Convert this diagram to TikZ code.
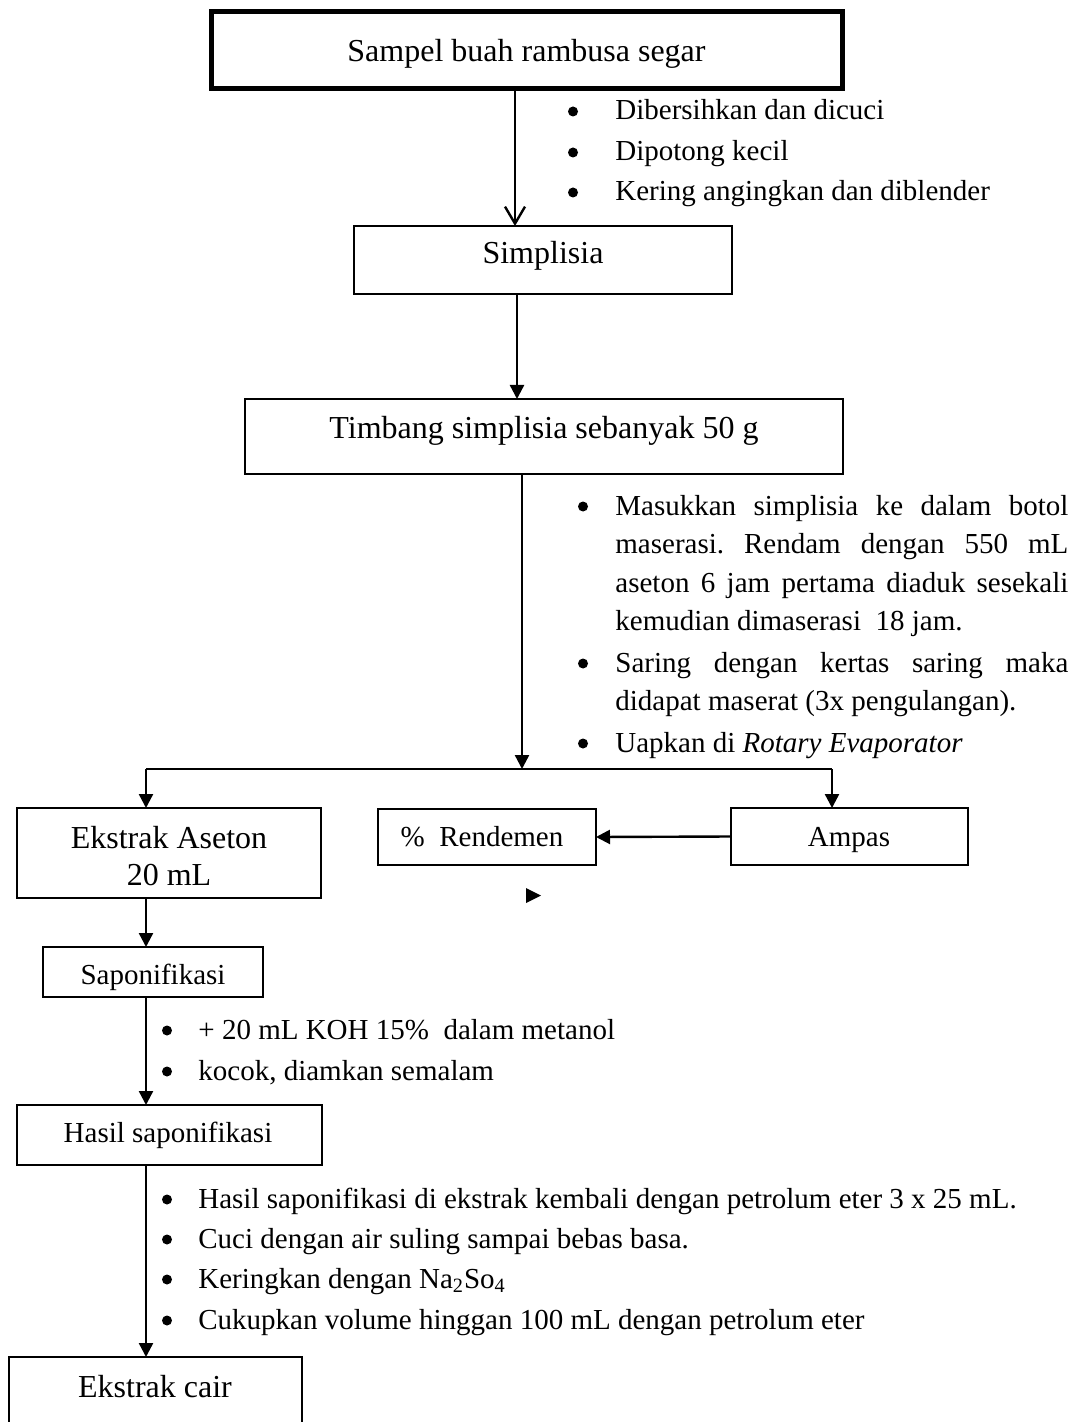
\documentclass[tikz,border=0pt]{standalone}
\usepackage{fontspec}
\setmainfont{Liberation Serif}
\usetikzlibrary{arrows.meta,fit}
\frenchspacing
\newcommand{\jline}[1]{\makebox[226.5pt][s]{#1}}
\begin{document}
\begin{tikzpicture}[x=0.5pt,y=-0.5pt,
  every node/.style={font=\fontsize{14.5pt}{18pt}\selectfont},
  box/.style={draw,line width=1pt,inner sep=0pt,outer sep=0pt},
  thickbox/.style={draw,line width=2.5pt,inner sep=0pt,outer sep=0pt},
  txt/.style={inner sep=0pt,anchor=base},
  bigtxt/.style={inner sep=0pt,anchor=base,font=\fontsize{16pt}{20pt}\selectfont},
  ltxt/.style={inner sep=0pt,anchor=base west},
  bul/.style={circle,fill,inner sep=0pt,minimum size=5pt},
  arr/.style={line width=1.2pt,-{Triangle[length=7pt,width=7pt]}},
  openarr/.style={line width=1.2pt,-{Straight Barb[length=8.5pt,width=10pt,line width=1.2pt]}},
  plain/.style={line width=1.2pt}]
\useasboundingbox (0,0) rectangle (1076,1422);
\clip (0,0) rectangle (1076,1422);

% boxes
\node[thickbox,fit={(211,12) (842,89)}] (b1) {};
\node[box,fit={(354,226) (732,294)}] (b2) {};
\node[box,fit={(245,399) (843,474)}] (b3) {};
\node[box,fit={(17,808) (321,898)}] (ek) {};
\node[box,fit={(378,809) (596,865)}] (ren) {};
\node[box,fit={(731,808) (968,865)}] (amp) {};
\node[box,fit={(43,947) (263,997)}] (sap) {};
\node[box,fit={(17,1105) (322,1165)}] (has) {};
\node[box,fit={(9,1357) (302,1450)}] (cair) {};

% box texts
\node[bigtxt] (t1) at (526.5,62) {Sampel buah rambusa segar};
\node[bigtxt] (t2) at (543,264) {Simplisia};
\node[bigtxt] (t3) at (544,438) {Timbang simplisia sebanyak 50 g};
\node[bigtxt] (t4a) at (169,848) {Ekstrak Aseton};
\node[bigtxt] (t4b) at (169,885) {20 mL};
\node[txt] (t5) at (482,846) {\%\ \ Rendemen};
\node[txt] (t6) at (849,846) {Ampas};
\node[txt] (t7) at (153,984) {Saponifikasi};
\node[txt] (t8) at (168,1142) {Hasil saponifikasi};
\node[bigtxt] (t9) at (155,1397) {Ekstrak cair};

% connector coordinates
\coordinate (c1) at (515,0);
\coordinate (c2) at (517,0);
\coordinate (c3) at (522,0);
\coordinate (cL) at (146,0);
\coordinate (jL) at (146,769);
\coordinate (jR) at (832,769);
\coordinate (j3) at (522,769);

% connectors
\draw[openarr] (b1.south -| c1) -- (b2.north -| c1);
\draw[arr] (b2.south -| c2) -- (b3.north -| c2);
\draw[arr] (b3.south -| c3) -- (j3);
\draw[plain] (jL) -- (jR);
\draw[arr] (jL) -- (ek.north -| jL);
\draw[arr] (jR) -- (amp.north -| jR);
\draw[arr] (amp.west) -- (ren.east);
\draw[arr] (ek.south -| cL) -- (sap.north -| cL);
\draw[arr] (sap.south -| cL) -- (has.north -| cL);
\draw[arr] (has.south -| cL) -- (cair.north -| cL);

% stray arrowhead
\fill (526,888) -- (541,895.5) -- (526,903) -- cycle;

% bullets group 1
\node[bul] (g1b1) at (573,111.5) {};
\node[bul] (g1b2) at (573,152.5) {};
\node[bul] (g1b3) at (573,192.5) {};
\node[ltxt] (g1t1) at (615,120) {Dibersihkan dan dicuci};
\node[ltxt] (g1t2) at (615,161) {Dipotong kecil};
\node[ltxt] (g1t3) at (615,201) {Kering angingkan dan diblender};

% bullets group 2
\node[bul] (g2b1) at (583,506.5) {};
\node[bul] (g2b2) at (583,663.5) {};
\node[bul] (g2b3) at (583,743.5) {};
\node[ltxt] (g2t1) at (615,515) {\jline{Masukkan simplisia ke dalam botol}};
\node[ltxt] (g2t2) at (615,553) {\jline{maserasi. Rendam dengan 550 mL}};
\node[ltxt] (g2t3) at (615,592) {\jline{aseton 6 jam pertama diaduk sesekali}};
\node[ltxt] (g2t4) at (615,630) {kemudian dimaserasi\ \ 18 jam.};
\node[ltxt] (g2t5) at (615,672) {\jline{Saring dengan kertas saring maka}};
\node[ltxt] (g2t6) at (615,710) {didapat maserat (3x pengulangan).};
\node[ltxt] (g2t7) at (615,752) {Uapkan di \textit{Rotary Evaporator}};

% bullets group 3
\node[bul] (g3b1) at (167,1030.5) {};
\node[bul] (g3b2) at (167,1071.5) {};
\node[ltxt] (g3t1) at (198,1039) {+ 20 mL KOH 15\%\ \ dalam metanol};
\node[ltxt] (g3t2) at (198,1080) {kocok, diamkan semalam};

% bullets group 4
\node[bul] (g4b1) at (167,1199.5) {};
\node[bul] (g4b2) at (167,1239.5) {};
\node[bul] (g4b3) at (167,1279.5) {};
\node[bul] (g4b4) at (167,1320.5) {};
\node[ltxt] (g4t1) at (198,1208) {Hasil saponifikasi di ekstrak kembali dengan petrolum eter 3 x 25 mL.};
\node[ltxt] (g4t2) at (198,1248) {Cuci dengan air suling sampai bebas basa.};
\node[ltxt] (g4t3) at (198,1288) {Keringkan dengan Na\textsubscript{2}So\textsubscript{4}};
\node[ltxt] (g4t4) at (198,1329) {Cukupkan volume hinggan 100 mL dengan petrolum eter};
\end{tikzpicture}
\end{document}
